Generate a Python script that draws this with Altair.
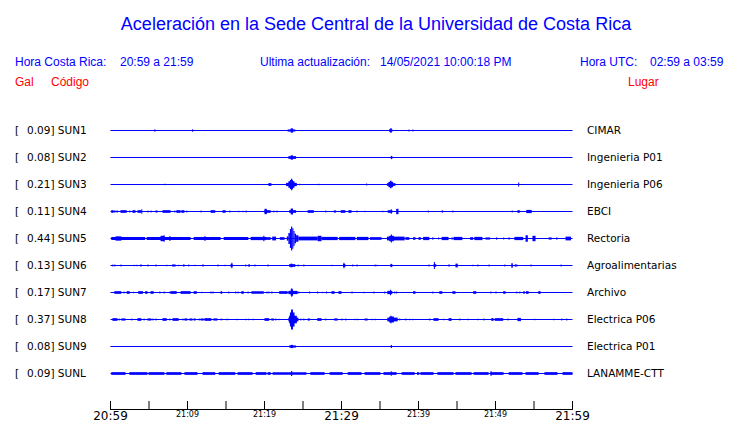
import altair as alt
import pandas as pd

# ---------------- data ----------------
codes = ["SUN1", "SUN2", "SUN3", "SUN4", "SUN5", "SUN6", "SUN7", "SUN8", "SUN9", "SUNL"]
peaks = [0.09, 0.08, 0.21, 0.11, 0.44, 0.13, 0.17, 0.37, 0.08, 0.09]
places = ["CIMAR", "Ingenieria P01", "Ingenieria P06", "EBCI", "Rectoria",
          "Agroalimentarias", "Archivo", "Electrica P06", "Electrica P01", "LANAMME-CTT"]

# bursts: [start minute after 20:59, end minute, half amplitude (gal)]
sun1 = [[5.7, 5.83, 0.05], [10.6, 10.73, 0.05], [23.0, 24.0, 0.04], [23.4, 23.7, 0.08],
        [36.2, 36.6, 0.05], [36.35, 36.5, 0.09], [38.7, 38.83, 0.04], [39.2, 39.33, 0.04]]
sun2 = [[23.1, 24.1, 0.05], [23.4, 23.7, 0.08], [36.4, 36.6, 0.06]]
sun3 = [[7.0, 7.13, 0.03], [20.5, 20.9, 0.05], [22.8, 24.2, 0.06], [23.1, 23.9, 0.12],
        [23.3, 23.7, 0.17], [23.45, 23.6, 0.21], [24.5, 24.63, 0.03], [27.0, 27.13, 0.03],
        [33.2, 33.33, 0.04], [35.9, 37.0, 0.05], [36.1, 36.7, 0.1], [36.3, 36.5, 0.14],
        [52.95, 53.08, 0.07]]
sun4 = [[0.1, 0.4, 0.05], [0.5, 0.63, 0.05], [0.8, 0.93, 0.05], [1.3, 2.1, 0.05],
        [2.45, 2.58, 0.04], [2.85, 3.25, 0.05], [3.5, 4.0, 0.05], [4.0, 4.13, 0.08],
        [4.8, 4.93, 0.04], [5.2, 5.33, 0.04], [5.85, 6.1, 0.04], [6.75, 7.8, 0.05],
        [8.3, 8.43, 0.04], [8.55, 9.1, 0.05], [9.2, 9.6, 0.05], [9.85, 9.98, 0.04],
        [11.7, 11.83, 0.04], [13.0, 13.6, 0.05], [14.55, 14.95, 0.05], [15.45, 15.58, 0.04],
        [16.6, 16.73, 0.03], [17.15, 17.28, 0.03], [17.55, 17.68, 0.04], [20.0, 20.3, 0.1],
        [20.0, 20.8, 0.05], [21.15, 21.28, 0.04], [21.55, 21.68, 0.04], [23.2, 24.1, 0.05],
        [23.4, 23.7, 0.11], [25.6, 26.4, 0.05], [27.9, 28.03, 0.04], [29.0, 29.3, 0.04],
        [29.9, 30.5, 0.05], [30.9, 31.3, 0.05], [31.95, 32.08, 0.04], [33.0, 33.13, 0.03],
        [35.3, 35.43, 0.03], [36.0, 36.6, 0.05], [36.4, 36.53, 0.08], [37.1, 37.4, 0.1],
        [41.2, 41.33, 0.04], [43.0, 43.2, 0.04], [44.4, 44.53, 0.04], [52.1, 52.23, 0.04],
        [52.85, 53.15, 0.05], [54.0, 54.7, 0.06]]
sun5 = [[0.1, 4.5, 0.06], [0.65, 1.4, 0.08], [4.7, 10.4, 0.06], [6.5, 7.0, 0.1],
        [6.9, 7.03, 0.12], [7.65, 7.78, 0.09], [10.8, 14.3, 0.06], [12.2, 12.33, 0.09],
        [14.7, 17.9, 0.06], [18.2, 20.2, 0.06], [19.85, 19.98, 0.1], [20.0, 20.8, 0.05],
        [21.0, 21.5, 0.07], [22.0, 22.6, 0.05], [22.9, 23.1, 0.08], [23.1, 23.3, 0.2],
        [23.3, 23.45, 0.35], [23.45, 23.6, 0.44], [23.6, 23.75, 0.38], [23.75, 23.9, 0.28],
        [23.9, 24.1, 0.18], [24.1, 24.4, 0.12], [24.4, 26.9, 0.07], [26.9, 27.4, 0.1],
        [27.4, 29.5, 0.06], [29.7, 31.8, 0.06], [32.0, 33.5, 0.06], [33.7, 35.2, 0.05],
        [35.9, 38.2, 0.07], [36.2, 36.8, 0.1], [36.4, 36.55, 0.15], [38.3, 38.8, 0.05],
        [39.3, 39.6, 0.05], [40.0, 40.3, 0.05], [40.6, 41.4, 0.06], [41.8, 41.93, 0.05],
        [42.55, 42.68, 0.04], [43.0, 43.9, 0.06], [44.3, 44.43, 0.05], [44.55, 45.7, 0.06],
        [46.7, 47.1, 0.05], [47.25, 48.3, 0.06], [48.7, 49.3, 0.04], [50.1, 50.23, 0.05],
        [51.0, 51.13, 0.04], [51.7, 51.83, 0.05], [52.45, 53.6, 0.06], [53.9, 54.2, 0.12],
        [54.8, 55.2, 0.1], [56.9, 57.3, 0.04], [57.9, 58.03, 0.05], [59.1, 59.8, 0.07]]
sun6 = [[0.25, 0.38, 0.04], [0.5, 0.63, 0.04], [1.3, 1.43, 0.04], [3.0, 3.13, 0.03],
        [3.35, 3.48, 0.03], [3.85, 4.05, 0.04], [4.8, 4.93, 0.04], [5.85, 5.98, 0.04],
        [7.25, 7.38, 0.03], [8.0, 8.45, 0.04], [8.8, 8.93, 0.03], [9.45, 9.6, 0.05],
        [10.1, 10.23, 0.04], [10.9, 11.03, 0.03], [11.95, 12.08, 0.05], [13.9, 14.03, 0.04],
        [14.8, 14.93, 0.03], [15.6, 15.85, 0.06], [15.7, 15.83, 0.1], [17.5, 17.63, 0.04],
        [17.9, 18.1, 0.05], [18.7, 18.83, 0.04], [20.4, 20.53, 0.04], [23.2, 24.0, 0.05],
        [23.4, 23.6, 0.07], [24.3, 24.43, 0.04], [25.05, 25.18, 0.04], [28.7, 28.83, 0.03],
        [30.2, 30.5, 0.06], [30.25, 30.38, 0.1], [31.4, 31.53, 0.04], [31.95, 32.08, 0.04],
        [34.3, 34.43, 0.04], [34.55, 34.68, 0.03], [36.35, 36.6, 0.06], [41.3, 41.43, 0.04],
        [41.95, 42.3, 0.05], [42.0, 42.13, 0.13], [43.9, 44.03, 0.05], [44.8, 45.1, 0.07],
        [47.0, 47.13, 0.03], [47.65, 47.78, 0.04], [49.1, 49.23, 0.04], [51.15, 51.28, 0.04],
        [52.05, 52.25, 0.08], [52.5, 52.63, 0.05], [52.7, 52.83, 0.05], [54.55, 54.68, 0.04],
        [58.45, 58.58, 0.04]]
sun7 = [[0.5, 1.4, 0.05], [1.7, 1.83, 0.04], [2.1, 2.5, 0.05], [2.95, 3.08, 0.03],
        [3.6, 4.2, 0.05], [4.5, 4.8, 0.05], [5.2, 5.6, 0.05], [6.35, 6.48, 0.04],
        [6.9, 7.03, 0.04], [7.65, 7.78, 0.04], [7.8, 8.6, 0.05], [9.1, 10.4, 0.05],
        [10.8, 11.2, 0.05], [11.8, 11.93, 0.03], [13.0, 13.13, 0.04], [13.25, 13.38, 0.04],
        [14.3, 14.5, 0.05], [15.3, 15.43, 0.04], [16.2, 16.33, 0.04], [16.5, 16.63, 0.04],
        [17.0, 17.3, 0.05], [17.8, 17.93, 0.04], [18.3, 19.9, 0.05], [20.25, 20.38, 0.04],
        [20.5, 20.63, 0.04], [20.9, 21.03, 0.04], [21.9, 23.0, 0.05], [23.1, 24.3, 0.06],
        [23.4, 23.7, 0.12], [23.5, 23.6, 0.17], [24.4, 24.53, 0.04], [25.8, 25.93, 0.04],
        [26.85, 26.98, 0.04], [27.5, 27.63, 0.03], [28.0, 28.13, 0.04], [28.7, 29.1, 0.05],
        [29.6, 30.0, 0.05], [31.3, 31.43, 0.04], [32.85, 32.98, 0.03], [34.15, 34.28, 0.04],
        [35.55, 35.68, 0.04], [35.95, 36.6, 0.06], [36.3, 36.43, 0.1], [36.85, 36.98, 0.04],
        [37.1, 37.23, 0.04], [39.3, 39.6, 0.05], [41.8, 41.93, 0.04], [42.7, 43.1, 0.05],
        [44.4, 44.8, 0.05], [47.1, 47.5, 0.05], [49.35, 49.48, 0.04], [50.0, 50.13, 0.04],
        [51.0, 51.3, 0.05], [52.7, 52.83, 0.04], [53.1, 53.23, 0.04], [53.6, 53.8, 0.05],
        [53.95, 54.3, 0.05], [55.55, 55.85, 0.05]]
sun8 = [[0.25, 0.9, 0.05], [1.05, 1.18, 0.04], [1.4, 1.95, 0.04], [2.7, 2.83, 0.04],
        [3.5, 4.0, 0.05], [4.3, 4.43, 0.04], [4.8, 5.3, 0.04], [5.45, 5.58, 0.04],
        [5.85, 5.98, 0.04], [6.75, 7.3, 0.05], [7.65, 7.78, 0.04], [8.05, 8.85, 0.05],
        [9.35, 9.48, 0.04], [9.6, 10.0, 0.04], [10.25, 10.65, 0.04], [10.8, 11.05, 0.04],
        [11.45, 11.58, 0.04], [11.7, 12.1, 0.04], [12.2, 13.1, 0.05], [13.35, 13.9, 0.04],
        [14.3, 14.43, 0.04], [14.95, 15.08, 0.03], [15.2, 15.33, 0.03], [16.35, 16.48, 0.03],
        [17.5, 17.63, 0.03], [17.9, 18.03, 0.03], [18.45, 18.58, 0.03], [20.0, 20.6, 0.05],
        [20.9, 21.2, 0.04], [21.4, 21.53, 0.04], [21.8, 21.93, 0.03], [23.1, 24.4, 0.07],
        [23.2, 24.2, 0.14], [23.3, 23.9, 0.26], [23.45, 23.7, 0.37], [24.65, 24.78, 0.04],
        [25.05, 25.18, 0.04], [25.6, 25.9, 0.04], [26.85, 27.4, 0.05], [27.9, 28.03, 0.04],
        [29.05, 29.5, 0.04], [30.0, 30.13, 0.04], [30.5, 30.63, 0.04], [31.7, 31.83, 0.03],
        [32.05, 32.18, 0.03], [33.0, 33.4, 0.04], [33.9, 34.03, 0.03], [34.3, 34.43, 0.03],
        [35.95, 37.3, 0.07], [36.2, 36.8, 0.11], [36.35, 36.5, 0.14], [37.5, 37.63, 0.04],
        [38.3, 38.43, 0.04], [38.8, 38.93, 0.03], [39.2, 39.33, 0.03], [41.4, 41.53, 0.04],
        [41.95, 42.6, 0.05], [43.2, 43.33, 0.03], [43.9, 44.3, 0.05], [45.3, 45.43, 0.04],
        [46.35, 46.48, 0.03], [47.65, 47.78, 0.03], [48.45, 48.58, 0.04], [49.45, 49.75, 0.05],
        [49.9, 51.0, 0.05], [51.55, 51.68, 0.04], [52.85, 53.3, 0.06], [55.05, 55.18, 0.03],
        [57.5, 57.63, 0.03], [58.55, 58.68, 0.04], [59.2, 59.33, 0.04]]
sun9 = [[23.2, 24.1, 0.04], [23.4, 23.7, 0.06], [36.4, 36.55, 0.06]]
sunl = [[0.1, 1.95, 0.05], [2.45, 4.8, 0.05], [4.95, 7.0, 0.05], [7.25, 9.2, 0.05],
        [9.6, 11.3, 0.05], [11.95, 13.6, 0.05], [14.05, 16.2, 0.05], [16.5, 18.45, 0.05],
        [18.85, 20.25, 0.05], [20.4, 20.8, 0.05], [21.05, 25.45, 0.05], [23.45, 23.6, 0.09],
        [25.95, 27.8, 0.05], [28.45, 30.15, 0.05], [30.8, 32.6, 0.05], [33.0, 35.05, 0.05],
        [35.45, 37.15, 0.05], [36.4, 36.53, 0.08], [37.8, 39.5, 0.05], [39.8, 40.1, 0.05],
        [40.25, 41.95, 0.05], [42.45, 44.55, 0.05], [44.8, 46.9, 0.05], [47.15, 49.1, 0.05],
        [49.35, 51.05, 0.05], [49.35, 49.48, 0.09], [51.7, 53.5, 0.05], [53.9, 55.6, 0.05],
        [56.35, 58.05, 0.05], [58.7, 60.0, 0.05]]
station_bursts = [sun1, sun2, sun3, sun4, sun5, sun6, sun7, sun8, sun9, sunl]

tick_minutes = [0, 5, 10, 15, 20, 25, 30, 35, 40, 45, 50, 55, 60]
major_minutes = [0, 30, 60]
major_labels = ["20:59", "21:29", "21:59"]
minor_minutes = [10, 20, 40, 50]
minor_labels = ["21:09", "21:19", "21:39", "21:49"]

title_text = "Aceleración en la Sede Central de la Universidad de Costa Rica"
cr_label, cr_value = "Hora Costa Rica:", "20:59 a 21:59"
upd_label, upd_value = "Ultima actualización:", "14/05/2021 10:00:18 PM"
utc_label, utc_value = "Hora UTC:", "02:59 a 03:59"
head_gal, head_code, head_place = "Gal", "Código", "Lugar"

# ---------------- tables ----------------
rows = []
for i, bl in enumerate(station_bursts):
    for t0, t1, a in bl:
        rows.append({"row": i, "t0": t0, "t1": t1, "y0": i - a, "y1": i + a})
bursts_df = pd.DataFrame(rows)
st_df = pd.DataFrame({
    "row": list(range(len(codes))),
    "lab": [f"{p:.2f}] {c}" for p, c in zip(peaks, codes)],
    "place": places,
})
ticks_df = pd.DataFrame({"m": tick_minutes})
major_df = pd.DataFrame({"m": major_minutes, "lab": major_labels})
minor_df = pd.DataFrame({"m": minor_minutes, "lab": minor_labels})

BLUE = "#0000ff"
RED = "#ff0000"
# half-pixel offsets keep 1px lines crisp
xs = alt.Scale(domain=[-0.065, 59.935], nice=False, zero=False)
ys = alt.Scale(domain=[-0.5, 10.3148], nice=False, zero=False, reverse=True)

traces = alt.Chart(bursts_df).mark_rect(color=BLUE).encode(
    x=alt.X("t0:Q", scale=xs, axis=None),
    x2="t1:Q",
    y=alt.Y("y0:Q", scale=ys, axis=None),
    y2="y1:Q",
)
baselines = alt.Chart(st_df).mark_rule(color=BLUE, strokeWidth=1).encode(
    x=alt.datum(0), x2=alt.datum(60), y="row:Q"
)
left_br = alt.Chart(st_df).mark_text(align="left", baseline="middle", font="DejaVu Sans",
                                     fontSize=10.5, color="black", text="[").encode(
    x=alt.value(-95), y="row:Q")
left_lab = alt.Chart(st_df).mark_text(align="left", baseline="middle", font="DejaVu Sans",
                                      fontSize=10.5, color="black").encode(
    x=alt.value(-83), y="row:Q", text="lab:N")
right_lab = alt.Chart(st_df).mark_text(align="left", baseline="middle", font="DejaVu Sans",
                                       fontSize=10.5, color="black").encode(
    x=alt.value(477), y="row:Q", text="place:N")

axis_line = alt.Chart(st_df).mark_rule(color="black", strokeWidth=1).encode(
    x=alt.datum(0), x2=alt.datum(60), y=alt.value(292.5))
tick_marks = alt.Chart(ticks_df).mark_rule(color="black", strokeWidth=1).encode(
    x="m:Q", y=alt.value(284), y2=alt.value(292.5))
major_text = alt.Chart(major_df).mark_text(align="center", baseline="alphabetic",
                                           font="DejaVu Sans", fontSize=12, color="black").encode(
    x="m:Q", y=alt.value(302.5), text="lab:N")
minor_text = alt.Chart(minor_df).mark_text(align="center", baseline="alphabetic",
                                           font="DejaVu Sans", fontSize=8, color="black").encode(
    x="m:Q", y=alt.value(300), text="lab:N")


def label(txt, x, y, color, size, align="left"):
    return alt.Chart(alt.Data(values=[{"k": 1}])).mark_text(
        text=txt, align=align, baseline="alphabetic", font="Liberation Sans",
        fontSize=size, color=color).encode(x=alt.value(x), y=alt.value(y))


header = [
    label(title_text, 266, -87, BLUE, 18, "center"),
    label(cr_label, -95, -51, BLUE, 12),
    label(cr_value, 10, -51, BLUE, 12),
    label(upd_label, 150, -51, BLUE, 12),
    label(upd_value, 270, -51, BLUE, 12),
    label(utc_label, 470, -51, BLUE, 12),
    label(utc_value, 540, -51, BLUE, 12),
    label(head_gal, -95, -31, RED, 12),
    label(head_code, -59, -31, RED, 12),
    label(head_place, 518, -31, RED, 12),
]

chart = alt.layer(
    traces, baselines, left_br, left_lab, right_lab,
    axis_line, tick_marks, major_text, minor_text, *header
).properties(
    width=462, height=292, autosize="none",
    padding={"left": 102, "top": 109, "right": 160, "bottom": 12},
).configure_view(strokeWidth=0)

chart.save("out.html", embed_options={"renderer": "svg", "actions": False})
